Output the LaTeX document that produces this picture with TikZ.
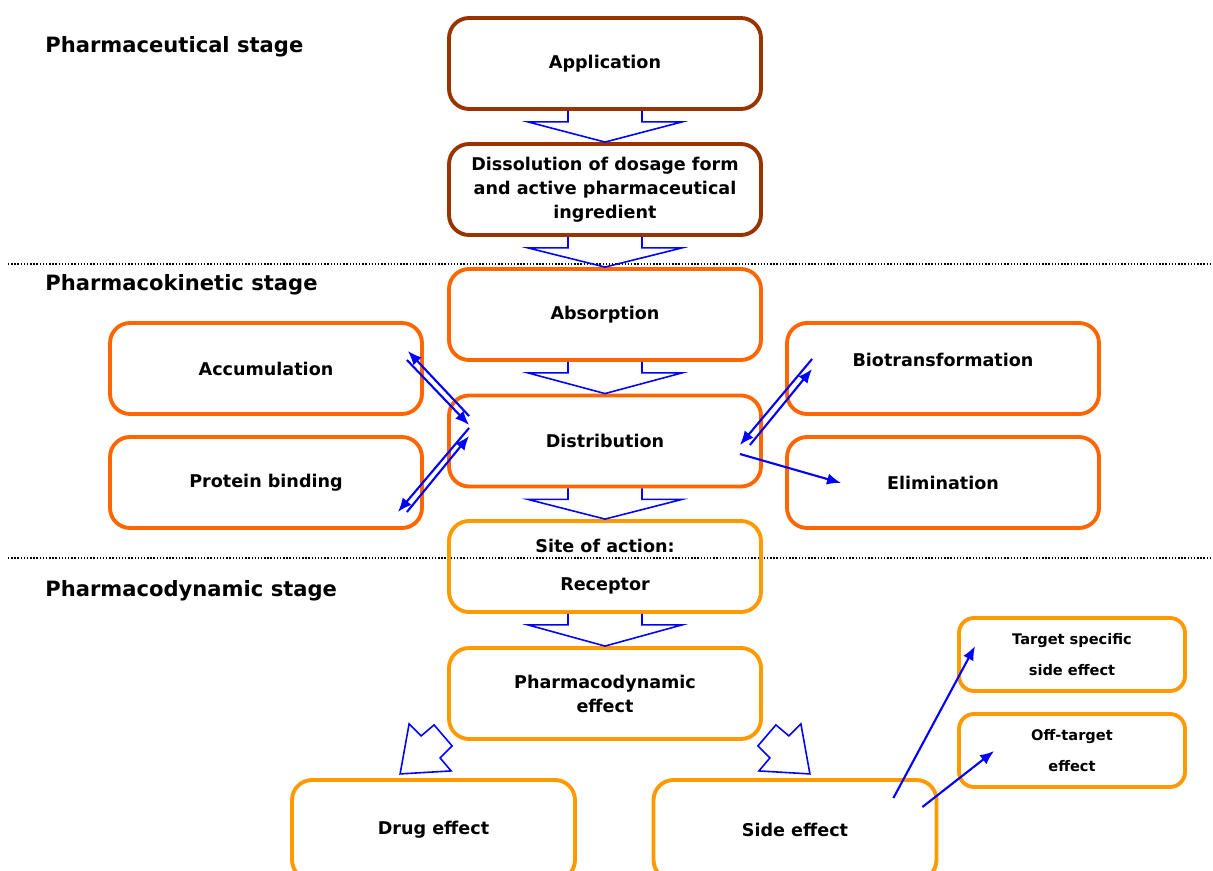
\documentclass[tikz,border=0pt]{standalone}
\usepackage{fontspec}
\setmainfont{DejaVu Sans}
\usepackage{xcolor}
\usepackage{tikz}
\usetikzlibrary{arrows.meta}
\definecolor{mBrown}{HTML}{993300}
\definecolor{mOrange}{HTML}{FF6600}
\definecolor{mAmber}{HTML}{FF9900}
\definecolor{mBlue}{HTML}{0000FF}

\begin{document}
\begin{tikzpicture}[x=0.02cm, y=-0.02cm, font=\fontsize{10}{13.6}\selectfont\bfseries,
        box/.style={draw, line width=2.2pt, rounded corners=0.4cm, align=center,
            minimum width=6.24cm, minimum height=1.82cm, inner sep=2pt},
        smallbox/.style={box, rounded corners=0.3cm, minimum width=4.52cm, minimum height=1.46cm,
            font=\fontsize{8.3}{17.6}\selectfont\bfseries},
        stage/.style={anchor=west, inner sep=0pt, font=\fontsize{12}{14}\selectfont\bfseries},
        blockarr/.style={draw=mBlue, line width=0.9pt, line join=miter},
        thinarr/.style={draw=mBlue, line width=1.2pt, -{Latex[length=8pt,width=6.5pt]}},
        sep/.style={line width=1.1pt, dash pattern=on 0.8pt off 1pt}]
        \useasboundingbox (0,0) rectangle (1213,871);

        \draw[sep] (8,264) -- (1213,264);
        \draw[sep] (8,558) -- (1213,558);

        \node[stage] (pharmaceutical) at (45,47) {Pharmaceutical stage};
        \node[stage] (kinetic) at (45,285) {Pharmacokinetic stage};
        \node[stage] (dynamic) at (45,591) {Pharmacodynamic stage};

        \node[box, mBrown] (app) at (605,63.5) {\color{black}Application};
        \node[box, mBrown] (diss) at (605,189.5) {\color{black}Dissolution of dosage form\\
            \color{black}and active pharmaceutical\\\color{black}ingredient};
        \node[box, mOrange] (abs) at (605,314.5) {\color{black}Absorption};
        \node[box, mOrange] (dist) at (605,441) {\color{black}Distribution};
        \node[box, mOrange] (accu) at (266,368.5) {\color{black}Accumulation};
        \node[box, mOrange] (prot) at (266,482.5) {\color{black}Protein binding};
        \node[box, mOrange] (bio) at (943,368.5) {\color{black}\raisebox{9.6pt}{Biotransformation}};
        \node[box, mOrange] (elim) at (943,482.5) {\color{black}Elimination};
        \node[box, mAmber] (site) at (605,566.5) {\color{black}Site of action:\\[8pt]\color{black}Receptor};
        \node[box, mAmber] (pde) at (605,693.5) {\color{black}Pharmacodynamic\\\color{black}effect};
        \node[box, mAmber, minimum width=5.66cm, minimum height=2cm] (drug) at (433.5,830) {\color{black}Drug effect};
        \node[box, mAmber, minimum width=5.66cm, minimum height=2cm] (side) at (795,830) {\color{black}Side effect};
        \node[smallbox, mAmber] (target) at (1072,654.5) {\color{black}Target specific\\\color{black}side effect};
        \node[smallbox, mAmber] (off) at (1072,750.5) {\color{black}Off-target\\\color{black}effect};

        \foreach \a/\b in {app/diss, diss/abs, abs/dist, dist/site, site/pde} {
            \draw[blockarr] ([shift={(-37,0)}]\a.south) -- ([shift={(-37,11)}]\a.south)
                -- ([shift={(-77,11)}]\a.south) -- (\b.north) -- ([shift={(77,11)}]\a.south)
                -- ([shift={(37,11)}]\a.south) -- ([shift={(37,0)}]\a.south);
        }

        \draw[blockarr] ([shift={(5,5)}]pde.south west) -- ([shift={(-13,-16)}]pde.south west)
            -- ([shift={(-26,-5)}]pde.south west) -- ([shift={(-38,-17)}]pde.south west)
            -- ([shift={(-47,33)}]pde.south west) -- ([shift={(4,30)}]pde.south west)
            -- ([shift={(-7,17)}]pde.south west) -- cycle;
        \draw[blockarr] ([shift={(-5,5)}]pde.south east) -- ([shift={(13,-16)}]pde.south east)
            -- ([shift={(26,-5)}]pde.south east) -- ([shift={(38,-17)}]pde.south east)
            -- ([shift={(47,33)}]pde.south east) -- ([shift={(-4,30)}]pde.south east)
            -- ([shift={(7,17)}]pde.south east) -- cycle;

        \draw[thinarr] ([shift={(22,-25)}]dist.west) -- ([shift={(-16,-17.5)}]accu.east);
        \draw[thinarr] ([shift={(-17,-8.5)}]accu.east) -- ([shift={(22,-16)}]dist.west);
        \draw[thinarr] ([shift={(22,-13)}]dist.west) -- ([shift={(-26,29.5)}]prot.east);
        \draw[thinarr] ([shift={(-17,29.5)}]prot.east) -- ([shift={(22,-5)}]dist.west);
        \draw[thinarr] ([shift={(27,-9.5)}]bio.west) -- ([shift={(-23,4)}]dist.east);
        \draw[thinarr] ([shift={(-13,4)}]dist.east) -- ([shift={(27,0.5)}]bio.west);
        \draw[thinarr] ([shift={(-23,13)}]dist.east) -- ([shift={(56,0.5)}]elim.west);
        \draw[thinarr] ([shift={(-45,-32)}]side.east) -- ([shift={(18,-8.5)}]target.west);
        \draw[thinarr] ([shift={(-16,-23)}]side.east) -- ([shift={(37,0.5)}]off.west);
    \end{tikzpicture}
\end{document}
